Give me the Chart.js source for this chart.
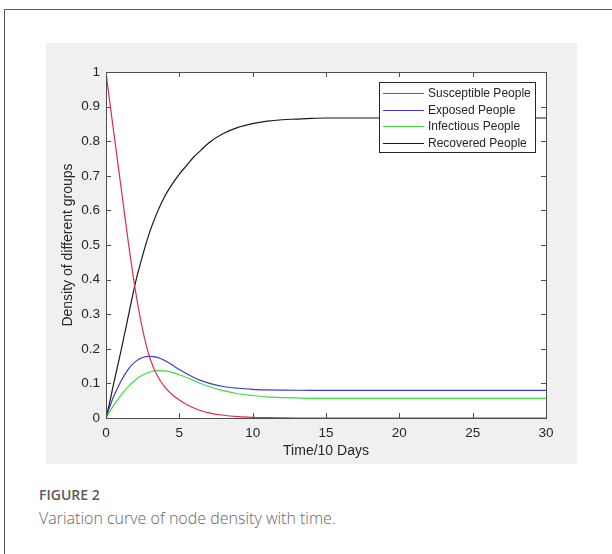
<!DOCTYPE html>
<html>
<head>
<meta charset="utf-8">
<script src="https://cdn.jsdelivr.net/npm/chart.js@4.4.1/dist/chart.umd.min.js"></script>
<style>
  html, body { margin: 0; padding: 0; background: #fff; }
  body { width: 612px; height: 554px; position: relative; overflow: hidden; }
  .frame { position: absolute; left: 4px; top: 9px; width: 700px; height: 700px;
           border-left: 1.5px solid #5a5a5a; border-top: 1.5px solid #5a5a5a; }
  .panel { position: absolute; left: 46px; top: 43px; width: 531px; height: 421px; background: #f0f0f0; }
  .fig-label { position: absolute; left: 39px; top: 485px; font: 600 14px "Open Sans"; color: #595959; }
  .caption { position: absolute; left: 39px; top: 507px; font: 300 16px "Open Sans"; color: #666; }
</style>
</head>
<body>
<div class="frame"></div>
<div class="panel"><canvas id="seirChart" width="531" height="421"></canvas></div>
<div class="fig-label">FIGURE 2</div>
<div class="caption">Variation curve of node density with time.</div>
<script>
// time axis (units of 10 days)
const times = [0, 0.25, 0.5, 1, 1.5, 2, 2.5, 3, 3.5, 4, 4.5, 5, 5.5, 6, 6.5, 7, 8, 9, 10, 11, 12, 13, 14, 15, 17.5, 20, 22.5, 25, 27.5, 30];

const susceptible = [1, 0.915, 0.835, 0.675, 0.515, 0.37, 0.255, 0.172, 0.122, 0.09, 0.068, 0.052, 0.039, 0.029, 0.021, 0.015, 0.008, 0.004, 0.002, 0.001, 0.0004, 0, 0, 0, 0, 0, 0, 0, 0, 0];
const exposed = [0, 0.032, 0.06, 0.105, 0.14, 0.163, 0.175, 0.178, 0.175, 0.166, 0.154, 0.14, 0.128, 0.117, 0.108, 0.101, 0.091, 0.086, 0.083, 0.0815, 0.0807, 0.0802, 0.08, 0.08, 0.08, 0.08, 0.08, 0.08, 0.08, 0.08];
const infectious = [0, 0.018, 0.035, 0.065, 0.09, 0.11, 0.124, 0.133, 0.137, 0.136, 0.132, 0.125, 0.117, 0.108, 0.099, 0.091, 0.079, 0.07, 0.065, 0.061, 0.059, 0.058, 0.057, 0.057, 0.057, 0.057, 0.057, 0.057, 0.057, 0.057];
const recovered = [0, 0.045, 0.095, 0.19, 0.29, 0.39, 0.47, 0.54, 0.595, 0.64, 0.675, 0.705, 0.73, 0.755, 0.775, 0.795, 0.822, 0.84, 0.851, 0.858, 0.862, 0.864, 0.866, 0.867, 0.867, 0.867, 0.867, 0.867, 0.867, 0.867];

const seriesNames = ['Susceptible People', 'Exposed People', 'Infectious People', 'Recovered People'];
const seriesColors = ['#dc2f45', '#3a3ad0', '#3fdc3f', '#1a1a1a'];

const xTickValues = [0, 5, 10, 15, 20, 25, 30];
const xTickLabels = ['0', '5', '10', '15', '20', '25', '30'];
const yTickValues = [0, 0.1, 0.2, 0.3, 0.4, 0.5, 0.6, 0.7, 0.8, 0.9, 1];
const yTickLabels = ['0', '0.1', '0.2', '0.3', '0.4', '0.5', '0.6', '0.7', '0.8', '0.9', '1'];

function toPoints(values) {
    return times.map((t, i) => ({ x: t, y: values[i] }));
}

const axisColor = '#262626';
const tickFont = { family: 'Liberation Sans', size: 13.5 };
const titleFont = { family: 'Liberation Sans', size: 14 };

// matlab style: white axes, box, inward ticks and the legend inside the axes
const matlabAxes = {
    id: 'matlabAxes',
    beforeDraw(chart) {
        const { ctx, chartArea: a } = chart;
        ctx.save();
        ctx.fillStyle = '#f0f0f0';
        ctx.fillRect(0, 0, chart.width, chart.height);
        ctx.fillStyle = '#ffffff';
        ctx.fillRect(a.left, a.top, a.right - a.left, a.bottom - a.top);
        ctx.restore();
    },
    afterDraw(chart) {
        const { ctx, chartArea: a, scales } = chart;
        ctx.save();
        ctx.strokeStyle = '#4d4d4d';
        ctx.lineWidth = 1;
        ctx.strokeRect(Math.round(a.left) + 0.5, Math.round(a.top) + 0.5,
                       Math.round(a.right - a.left), Math.round(a.bottom - a.top));
        ctx.beginPath();
        xTickValues.forEach(v => {
            const x = Math.round(scales.x.getPixelForValue(v)) + 0.5;
            ctx.moveTo(x, a.bottom); ctx.lineTo(x, a.bottom - 5);
            ctx.moveTo(x, a.top); ctx.lineTo(x, a.top + 5);
        });
        yTickValues.forEach(v => {
            const y = Math.round(scales.y.getPixelForValue(v)) + 0.5;
            ctx.moveTo(a.left, y); ctx.lineTo(a.left + 5, y);
            ctx.moveTo(a.right, y); ctx.lineTo(a.right - 5, y);
        });
        ctx.stroke();

        // legend
        const w = 156, h = 70;
        const x0 = Math.round(a.right - 11 - w), y0 = Math.round(a.top + 10);
        ctx.fillStyle = '#fff';
        ctx.fillRect(x0, y0, w, h);
        ctx.strokeStyle = axisColor;
        ctx.strokeRect(x0 + 0.5, y0 + 0.5, w, h);
        ctx.font = '12px "Liberation Sans"';
        ctx.textBaseline = 'middle';
        chart.data.datasets.forEach((ds, i) => {
            const y = Math.round(y0 + 11 + i * 16.5) + 0.5;
            ctx.strokeStyle = ds.borderColor;
            ctx.lineWidth = 1.2;
            ctx.beginPath();
            ctx.moveTo(x0 + 4, y); ctx.lineTo(x0 + 45, y);
            ctx.stroke();
            ctx.fillStyle = axisColor;
            ctx.fillText(ds.label, x0 + 49, y);
        });
        ctx.restore();
    }
};

const ctx = document.getElementById('seirChart').getContext('2d');
new Chart(ctx, {
    type: 'line',
    data: {
        datasets: [susceptible, exposed, infectious, recovered].map((vals, i) => ({
            label: seriesNames[i],
            data: toPoints(vals),
            borderColor: seriesColors[i],
            backgroundColor: seriesColors[i],
            borderWidth: 1.2,
            pointRadius: 0,
            fill: false,
            cubicInterpolationMode: 'monotone'
        }))
    },
    options: {
        responsive: false,
        animation: false,
        layout: { padding: { top: 29, right: 31, left: 0, bottom: 0 } },
        plugins: { legend: { display: false }, tooltip: { enabled: false } },
        scales: {
            x: {
                type: 'linear',
                min: 0,
                max: 30,
                afterBuildTicks: s => { s.ticks = xTickValues.map(v => ({ value: v })); },
                afterFit: s => { s.height = 46; },
                ticks: {
                    callback: (v, i) => xTickLabels[i],
                    font: tickFont,
                    color: axisColor,
                    padding: 7,
                    maxRotation: 0,
                    autoSkip: false
                },
                grid: { display: false, drawTicks: false },
                border: { display: false },
                title: { display: true, text: 'Time/10 Days', font: titleFont, color: axisColor, padding: { top: 0, bottom: 4 } }
            },
            y: {
                type: 'linear',
                min: 0,
                max: 1,
                afterBuildTicks: s => { s.ticks = yTickValues.map(v => ({ value: v })); },
                afterFit: s => { s.width = 60; },
                ticks: {
                    callback: (v, i) => yTickLabels[i],
                    font: tickFont,
                    color: axisColor,
                    padding: 6,
                    autoSkip: false
                },
                grid: { display: false, drawTicks: false },
                border: { display: false },
                title: { display: true, text: 'Density of different groups', font: titleFont, color: axisColor, padding: { top: 14, bottom: 0 } }
            }
        }
    },
    plugins: [matlabAxes]
});
</script>
</body>
</html>
